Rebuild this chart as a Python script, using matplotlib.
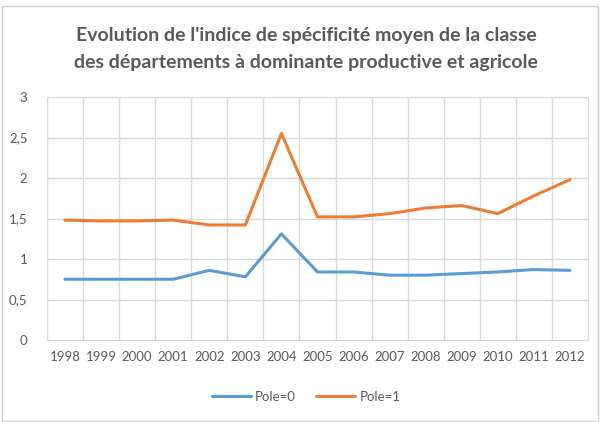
import matplotlib.pyplot as plt
from matplotlib.patches import Rectangle

years = ["1998", "1999", "2000", "2001", "2002", "2003", "2004", "2005",
         "2006", "2007", "2008", "2009", "2010", "2011", "2012"]
pole0 = [0.75, 0.75, 0.75, 0.75, 0.86, 0.78, 1.31, 0.84, 0.84, 0.80, 0.80, 0.82, 0.84, 0.87, 0.86]
pole1 = [1.48, 1.47, 1.47, 1.48, 1.42, 1.42, 2.55, 1.52, 1.52, 1.56, 1.63, 1.66, 1.56, 1.78, 1.98]

plt.rcParams['font.family'] = ['Lato', 'DejaVu Sans']
txt = "#595959"
grid = "#d9d9d9"

fig = plt.figure(figsize=(6.08, 4.22), dpi=100)
W, H = 608, 422
ax = fig.add_axes([47 / W, 1 - 340 / H, (588 - 47) / W, (340 - 97) / H])

x = list(range(len(years)))
ax.plot(x, pole0, color="#5B9BD5", lw=2.2, label="Pole=0", solid_capstyle="round")
ax.plot(x, pole1, color="#ED7D31", lw=2.2, label="Pole=1", solid_capstyle="round")

ax.set_xlim(-0.5, len(years) - 0.5)
ax.set_ylim(0, 3)
ax.set_yticks([0, 0.5, 1, 1.5, 2, 2.5, 3])
ax.set_yticklabels(["0", "0,5", "1", "1,5", "2", "2,5", "3"])
ax.set_xticks(x)
ax.set_xticklabels(years)
ax.set_xticks([i - 0.5 for i in range(len(years) + 1)], minor=True)
ax.grid(True, which="minor", axis="x", color=grid, lw=1)
ax.grid(True, which="major", axis="y", color=grid, lw=1)
ax.set_axisbelow(True)
ax.tick_params(which="both", length=0, colors=txt, labelsize=9.5)
ax.tick_params(axis="y", pad=14)
ax.tick_params(axis="x", pad=8)
for s in ax.spines.values():
    s.set_color(grid)

fig.text(306 / W, 1 - 36 / H, "Evolution de l'indice de spécificité moyen de la classe",
         ha="center", va="center", fontsize=14, fontweight="bold", color=txt)
fig.text(306 / W, 1 - 63 / H, "des départements à dominante productive et agricole",
         ha="center", va="center", fontsize=14, fontweight="bold", color=txt)

fig.legend(loc="center", bbox_to_anchor=(306 / W, 1 - 397 / H), ncol=2, frameon=False,
           fontsize=9.5, labelcolor=txt, handlelength=3, columnspacing=1.5, handletextpad=0.3)

fig.patches.append(Rectangle((2 / W, 0.002), 596 / W, 1 - 6 / H - 0.002, transform=fig.transFigure,
                             fill=False, edgecolor="#d0d0d0", lw=1))

fig.savefig("out.png", dpi=100)
